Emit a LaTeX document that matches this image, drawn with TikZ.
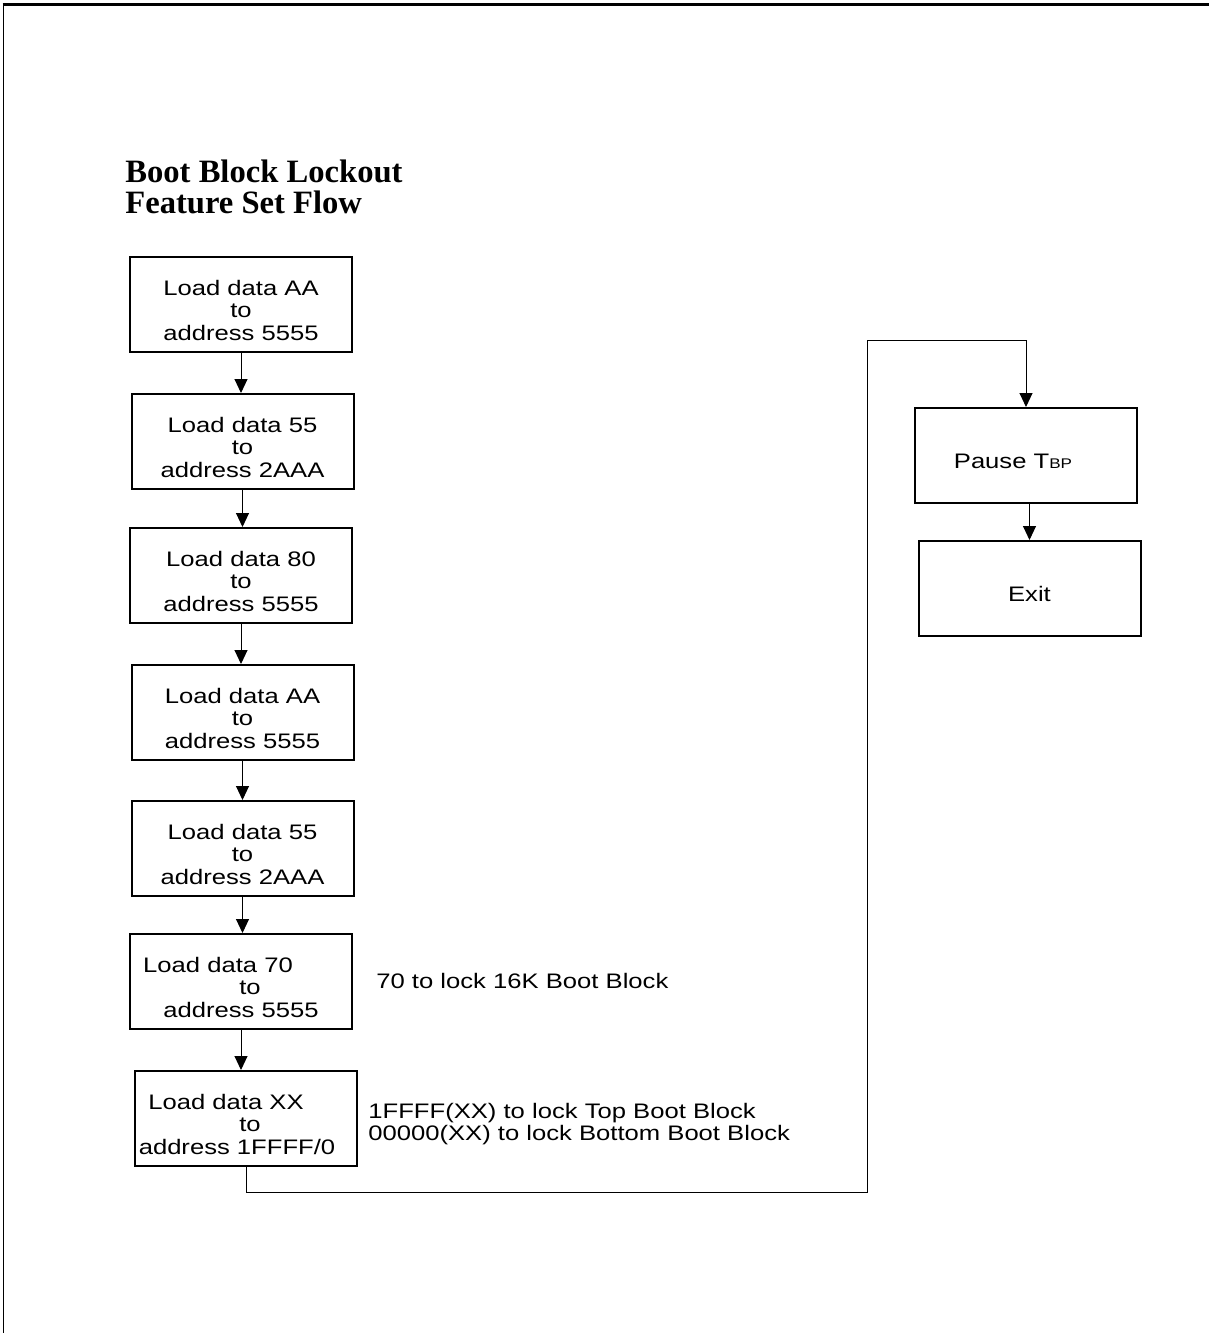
\documentclass[tikz,border=0pt]{standalone}
\usepackage{fontspec}
\setmainfont{Liberation Sans}[FakeStretch=1.22]
\newfontfamily\titlefont{Liberation Serif}
\usetikzlibrary{arrows.meta}
\tikzset{
		>={Triangle[width=6.5pt,length=7pt]},
		stepbox/.style={draw, line width=1pt, minimum width=111pt, minimum height=47.5pt, inner xsep=0pt, align=center, font=\fontsize{10.5}{11.25}\selectfont},
		note/.style={inner sep=0pt, align=left, font=\fontsize{10.5}{11.25}\selectfont},
		flow/.style={->, line width=0.5pt}
	}
\newcommand\st{\rule{0pt}{13.5pt}}

\begin{document}
\begin{tikzpicture}[x=0.5pt, y=-0.5pt] % one unit = one pixel of the sheet, y runs down
		\useasboundingbox (0,0) rectangle (1209,1333);
		\draw[line width=1.25pt] (2.5,4.5) -- (1209,4.5); % sheet edge
		\draw[line width=0.5pt] (3,4.5) -- (3,1333);
		\node[anchor=north west, inner sep=0pt, align=left, font=\titlefont\bfseries\fontsize{16.3}{15.5}\selectfont] (title) at (125,159.5) {Boot Block Lockout\\Feature Set Flow};
		% the command sequence
		\foreach \n/\x/\y/\txt in {
			1/241/304.5/{Load data AA\\to\\address 5555},
			2/242.5/441.5/{Load data 55\\to\\address 2AAA},
			3/241/575.5/{Load data 80\\to\\address 5555},
			4/242.5/712.5/{Load data AA\\to\\address 5555},
			5/242.5/848.5/{Load data 55\\to\\address 2AAA},
			6/241/981.5/{Load data 70\hspace*{23pt}\\\hspace*{9pt}to\\address 5555},
			7/246/1118.5/{Load data XX\hspace*{20pt}\\\hspace*{4pt}to\\address 1FFFF/0\hspace*{9pt}}}
			\node[stepbox] (b\n) at (\x,\y) {\st\txt};
		\foreach \a/\b in {1/2,2/3,3/4,4/5,5/6,6/7}
			\draw[flow] (b\a) -- (b\a.south |- b\b.north);
		\node[stepbox] (pause) at (1026,455.5) {\st Pause T{\fontsize{7}{8}\selectfont BP}\hspace*{13pt}};
		\node[stepbox] (exit) at (1029.5,588.5) {\st Exit};
		\node[note, anchor=base west] (lock70) at (376,988) {70 to lock 16K Boot Block};
		\node[note, anchor=north west] (lockxx) at (368,1102.7) {1FFFF(XX) to lock Top Boot Block\\00000(XX) to lock Bottom Boot Block};
		\coordinate (bend) at (867,1192);
		\coordinate (over) at (867,340);
		\draw[flow] (b7) |- (bend) -- (over) -| (pause);
		\draw[flow] (pause.south -| exit.north) -- (exit.north);
	\end{tikzpicture}
\end{document}
